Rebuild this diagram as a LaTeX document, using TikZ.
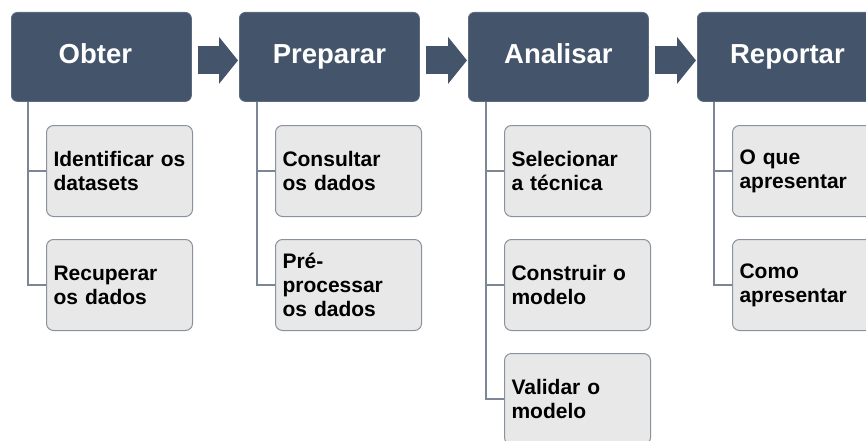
\documentclass[tikz,border=0pt]{standalone}
\usepackage{fontspec}
\setmainfont{Liberation Sans}
\usetikzlibrary{arrows.meta,calc}
\definecolor{hdr}{HTML}{44546A}
\definecolor{hdrline}{HTML}{5A6A80}
\definecolor{cfill}{HTML}{E8E8E8}
\definecolor{cline}{HTML}{8A929E}
\definecolor{tline}{HTML}{7D8694}
\begin{document}
\begin{tikzpicture}[x=1pt,y=-1pt,
  header/.style={draw=hdrline,line width=0.8pt,fill=hdr,rounded corners=6pt,
    minimum width=180pt,minimum height=89pt,anchor=north west,inner sep=0pt,
    text height=20pt,text depth=7pt,
    text=white,font=\fontsize{27.5}{30}\selectfont\bfseries},
  child/.style={draw=cline,line width=1pt,fill=cfill,rounded corners=7pt,
    minimum width=146pt,minimum height=91pt,anchor=north west,inner xsep=7pt,inner ysep=0pt,
    text width=132pt,align=left,text=black,font=\fontsize{21}{24}\selectfont\bfseries},
  trunk/.style={draw=tline,line width=1.2pt},
  bigarrow/.style={draw=hdr,line width=28pt,-{Triangle[length=19pt,width=46pt]},color=hdr}]
\useasboundingbox (0,0) rectangle (866,441);
\clip (0,0) rectangle (866,441);
% headers
\node[header] (ob) at (11,12) {\hspace*{-12pt}Obter};
\node[header] (pr) at (239,12) {Preparar};
\node[header] (an) at (468,12) {Analisar};
\node[header] (re) at (697,12) {Reportar};
% big arrows
\draw[bigarrow] ([xshift=6pt,yshift=-3.5pt]ob.east) -- ([xshift=-1pt,yshift=-3.5pt]pr.west);
\draw[bigarrow] ([xshift=6pt,yshift=-3.5pt]pr.east) -- ([xshift=-1pt,yshift=-3.5pt]an.west);
\draw[bigarrow] ([xshift=6pt,yshift=-3.5pt]an.east) -- ([xshift=-1pt,yshift=-3.5pt]re.west);
% children
\node[child] (ob1) at (46,125) {Identificar os\\datasets};
\node[child] (ob2) at (46,239) {Recuperar\\os dados};
\node[child] (pr1) at (275,125) {Consultar\\os dados};
\node[child] (pr2) at (275,239) {Pré-\\processar\\os dados};
\node[child] (an1) at (504,125) {Selecionar\\a técnica};
\node[child] (an2) at (504,239) {Construir o\\modelo};
\node[child] (an3) at (504,353) {Validar o\\modelo};
\node[child] (re1) at (732,125) {O que\\apresentar};
\node[child] (re2) at (732,239) {Como\\apresentar};
% trunks
\coordinate (obt) at ([xshift=17pt]ob.south west);
\coordinate (prt) at ([xshift=18pt]pr.south west);
\coordinate (ant) at ([xshift=18pt]an.south west);
\coordinate (ret) at ([xshift=17pt]re.south west);
\draw[trunk] (obt) |- (ob1.west);
\draw[trunk] (obt) |- (ob2.west);
\draw[trunk] (prt) |- (pr1.west);
\draw[trunk] (prt) |- (pr2.west);
\draw[trunk] (ant) |- (an1.west);
\draw[trunk] (ant) |- (an2.west);
\draw[trunk] (ant) |- (an3.west);
\draw[trunk] (ret) |- (re1.west);
\draw[trunk] (ret) |- (re2.west);
\end{tikzpicture}
\end{document}
